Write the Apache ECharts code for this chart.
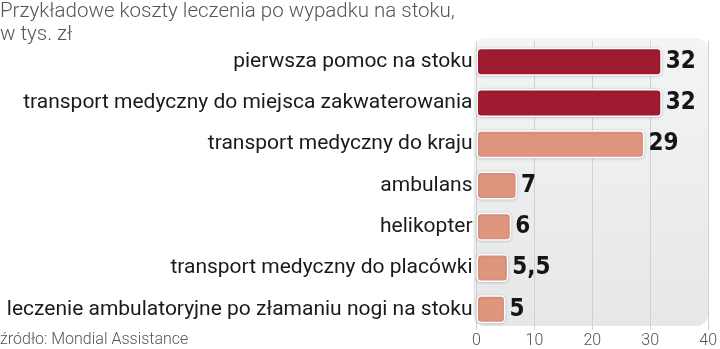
<!DOCTYPE html>
<html>
<head>
<meta charset="utf-8">
<script src="https://cdn.jsdelivr.net/npm/echarts@6/dist/echarts.min.js"></script>
<style>
  html, body { margin: 0; padding: 0; background: #ffffff; }
  #chart { width: 720px; height: 349px; }
</style>
</head>
<body>
<div id="chart"></div>
<script>
// Przykładowe koszty leczenia po wypadku na stoku (tys. zł)
const categories = [
  'pierwsza pomoc na stoku',
  'transport medyczny do miejsca zakwaterowania',
  'transport medyczny do kraju',
  'ambulans',
  'helikopter',
  'transport medyczny do placówki',
  'leczenie ambulatoryjne po złamaniu nogi na stoku'
];
const values = [32, 32, 29, 7, 6, 5.5, 5];
const highlighted = [true, true, false, false, false, false, false];
const xTicks = [0, 10, 20, 30, 40];

const titleLines = ['Przykładowe koszty leczenia po wypadku na stoku,', 'w tys. zł'];
const sourceText = 'źródło: Mondial Assistance';

const DARK = '#a01b30';
const LIGHT = '#e0957f';

const chart = echarts.init(document.getElementById('chart'), null, { renderer: 'canvas' });

const gridDef = { left: 476.5, right: 9, top: 41, bottom: 19, containLabel: false };

function textGraphics() {
  return [
    {
      type: 'text', left: 0, top: 0,
      style: { text: titleLines.join('\n'), fill: '#555', font: '300 20.5px Roboto', lineHeight: 23 }
    },
    {
      type: 'text', left: 0, top: 332,
      style: { text: sourceText, fill: '#555', font: '300 16px Roboto' }
    }
  ];
}

const option = {
  animation: false,
  backgroundColor: '#ffffff',
  grid: gridDef,
  xAxis: {
    type: 'value',
    min: xTicks[0],
    max: xTicks[xTicks.length - 1],
    interval: 10,
    axisLine: { show: false },
    axisTick: { show: false },
    splitLine: { show: true, lineStyle: { color: '#cfd1d3', width: 1 } },
    axisLabel: {
      color: '#555',
      fontFamily: 'Roboto',
      fontWeight: 300,
      fontSize: 16,
      margin: 3,
      formatter: v => String(v)
    }
  },
  yAxis: {
    type: 'category',
    data: categories,
    inverse: true,
    axisLine: { show: false },
    axisTick: { show: false },
    axisLabel: {
      color: '#1a1a1a',
      fontFamily: 'Roboto',
      fontSize: 21,
      margin: 4
    }
  },
  series: [{
    type: 'bar',
    data: values.map((v, i) => ({
      value: v,
      itemStyle: { color: highlighted[i] ? DARK : LIGHT }
    })),
    barWidth: 28,
    itemStyle: {
      borderColor: '#ffffff',
      borderWidth: 1.5,
      borderRadius: 4,
      shadowColor: 'rgba(0,0,0,0.18)',
      shadowBlur: 3,
      shadowOffsetY: 0.5
    },
    label: {
      show: true,
      position: 'right',
      distance: 4,
      color: '#151515',
      fontFamily: '"DejaVu Sans Condensed", "DejaVu Sans", sans-serif',
      fontWeight: 'bold',
      fontSize: 24,
      formatter: p => String(p.value).replace('.', ',')
    },
    z: 3
  }],
  graphic: textGraphics()
};

chart.setOption(option);

// rounded panel behind the plot, sized from the axis scale
const p0 = chart.convertToPixel({ xAxisIndex: 0 }, xTicks[0]);
const p1 = chart.convertToPixel({ xAxisIndex: 0 }, xTicks[xTicks.length - 1]);
const h = 349;
chart.setOption({
  graphic: textGraphics().concat([
    {
      type: 'rect',
      z: -10,
      shape: { x: p0 - 3, y: gridDef.top - 3, width: p1 - p0 + 3, height: h - gridDef.bottom - gridDef.top - 1, r: 12 },
      style: {
        fill: {
          type: 'linear', x: 0, y: 0, x2: 0, y2: 1,
          colorStops: [{ offset: 0, color: '#f3f4f4' }, { offset: 1, color: '#e6e7e8' }]
        }
      }
    }
  ])
});
</script>
</body>
</html>
